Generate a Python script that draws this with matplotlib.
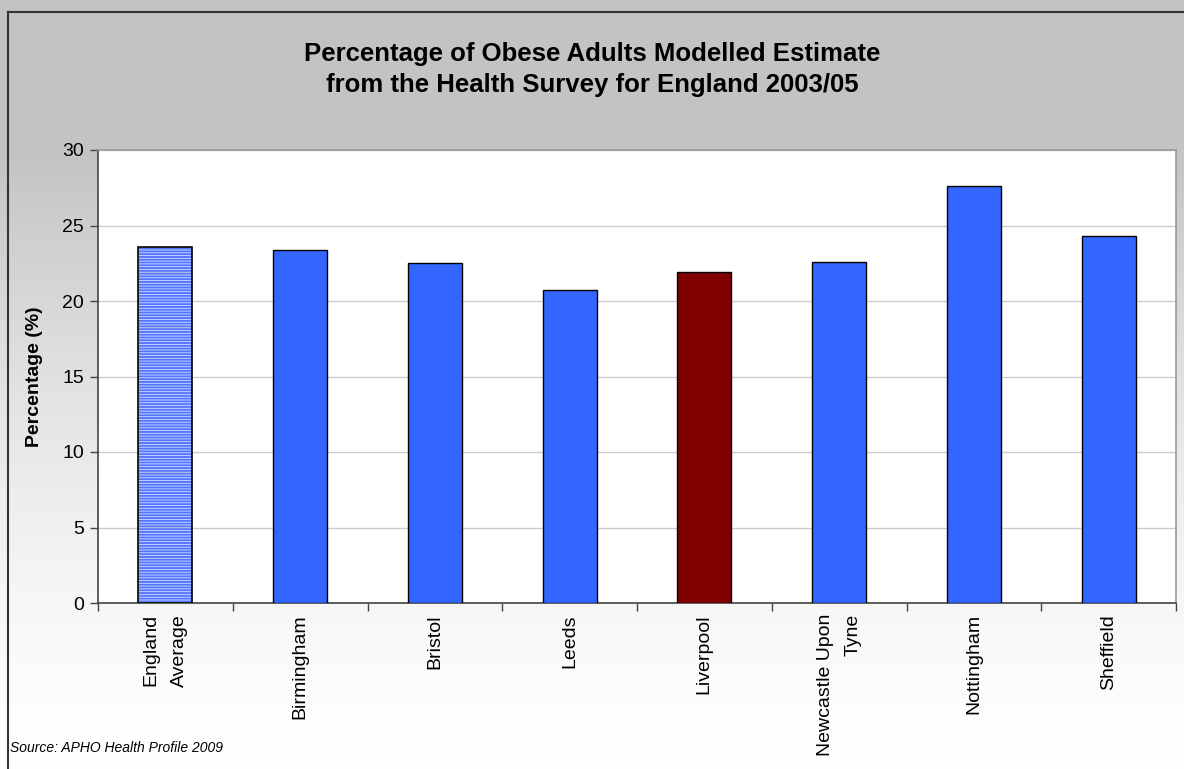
"""obesity bar chart"""

import matplotlib.pyplot as plt
import matplotlib.lines as mlines
import numpy as np

plt.rcParams['font.family'] = ['Liberation Sans', 'DejaVu Sans']
plt.rcParams['hatch.linewidth'] = 1.4

# --- data
areas = ["England\nAverage", "Birmingham", "Bristol", "Leeds", "Liverpool",
         "Newcastle Upon\nTyne", "Nottingham", "Sheffield"]
obese_pct = [23.6, 23.4, 22.5, 20.7, 21.9, 22.6, 27.6, 24.3]
bar_colors = ["#d4dfff", "#3366ff", "#3366ff", "#3366ff", "#800000",
              "#3366ff", "#3366ff", "#3366ff"]
y_ticks = [0, 5, 10, 15, 20, 25, 30]

W, H = 1184, 769
fig = plt.figure(figsize=(W / 100, H / 100), dpi=100)

# gradient background (grey at top, fading to white lower down)
bg = fig.add_axes([0, 0, 1, 1], zorder=-10)
rows = np.arange(H)
t = np.clip((rows - 150) / (H - 150), 0, 1)
shade = 1 - (1 - t) ** 1.5
val = (0xc3 + (0xff - 0xc3) * shade) / 255.0
img = np.repeat(val[:, None, None], 3, axis=2)
bg.imshow(img, aspect='auto', extent=[0, 1, 0, 1], origin='upper')
bg.set_xlim(0, 1)
bg.set_ylim(0, 1)
bg.axis('off')

# chart frame
fx = 7.5 / W
fy = 1 - 11.5 / H
fig.add_artist(mlines.Line2D([fx, fx], [0, fy], color="#333333", lw=1.5))
fig.add_artist(mlines.Line2D([fx, 1], [fy, fy], color="#333333", lw=1.5))

ax = fig.add_axes([98 / W, 1 - 603 / H, (1176 - 98) / W, (603 - 150) / H])
ax.set_facecolor("white")

x = np.arange(len(areas))
# England average bar: hatched, drawn in two passes so the hatch is blue
ax.bar(x[0], obese_pct[0], width=0.4, color=bar_colors[0],
       edgecolor="#5577ff", hatch="------", linewidth=0, zorder=3)
ax.bar(x[0], obese_pct[0], width=0.4, fill=False,
       edgecolor="black", linewidth=1.2, zorder=4)
ax.bar(x[1:], obese_pct[1:], width=0.4, color=bar_colors[1:],
       edgecolor="black", linewidth=1.0, zorder=3)

ax.set_xlim(-0.5, len(areas) - 0.5)
ax.set_ylim(0, 30)
ax.set_yticks(y_ticks)
ax.tick_params(axis='y', labelsize=14, length=6, width=1, color="#444444",
               pad=4)
ax.set_xticks(x)
ax.set_xticklabels(areas, rotation=90, fontsize=14, va='top', ha='center',
                   multialignment='right')
for lbl in ax.get_xticklabels():
    lbl.set_linespacing(1.85)
ax.tick_params(axis='x', length=0, pad=8)
ax.set_xticks(np.arange(-0.5, len(areas)), minor=True)
ax.tick_params(axis='x', which='minor', length=6, width=1, color="#444444")

ax.grid(axis='y', color="#cccccc", linewidth=1.0, zorder=0)
ax.set_axisbelow(True)
for s in ['left', 'bottom']:
    ax.spines[s].set_color("#444444")
    ax.spines[s].set_linewidth(1.2)
for s in ['top', 'right']:
    ax.spines[s].set_color("#999999")
    ax.spines[s].set_linewidth(1.2)

ax.set_ylabel("Percentage (%)", fontsize=14, fontweight='bold', labelpad=14)

fig.text(0.5, 1 - 69.5 / H,
         "Percentage of Obese Adults Modelled Estimate\n"
         "from the Health Survey for England 2003/05",
         ha='center', va='center', fontsize=18.5, fontweight='bold',
         linespacing=1.35)

fig.text(10 / W, 1 - 748 / H, "Source: APHO Health Profile 2009",
         fontsize=10, style='italic', ha='left', va='center')

# plt.show()
plt.savefig("out.png", dpi=100)
